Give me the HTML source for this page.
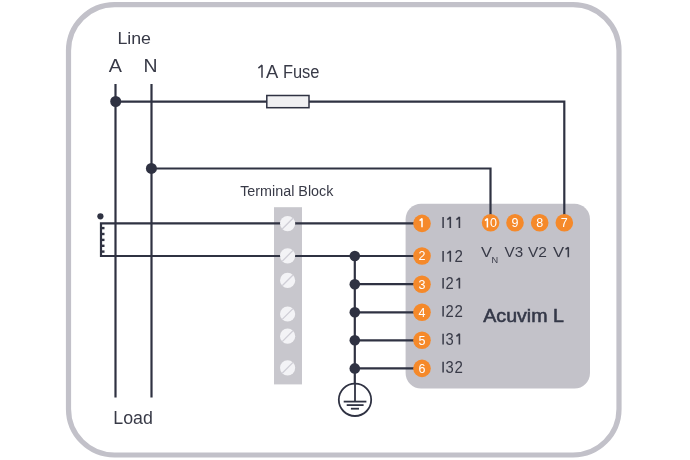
<!DOCTYPE html>
<html><head><meta charset="utf-8"><style>
html,body{margin:0;padding:0;background:#fff;width:690px;height:460px;overflow:hidden}
svg{display:block;will-change:transform}
text{font-family:"Liberation Sans",sans-serif}
</style></head><body>
<svg width="690" height="460" viewBox="0 0 690 460">
<rect x="0" y="0" width="690" height="460" fill="#fff"/>
<rect x="68.5" y="4.7" width="550.5" height="450.3" rx="46" ry="46" fill="none" stroke="#c2c1c9" stroke-width="5.2"/>
<rect x="405.6" y="203.8" width="184.4" height="184.8" rx="15.5" ry="15.5" fill="#c3c2c9"/>
<rect x="274" y="207.2" width="28" height="177.2" fill="#c8c7cd"/>
<g fill="#383a47">
<text x="117.4" y="43.8" font-size="17.4" textLength="33.6" lengthAdjust="spacingAndGlyphs">Line</text>
<text x="108.8" y="72" font-size="17.5" textLength="13.2" lengthAdjust="spacingAndGlyphs">A</text>
<text x="143.5" y="72" font-size="17.5" textLength="14" lengthAdjust="spacingAndGlyphs">N</text>
<text x="265.9" y="77.6" font-size="17.5" textLength="12.3" lengthAdjust="spacingAndGlyphs">A</text>
<text x="282.9" y="77.6" font-size="17.5" textLength="36.6" lengthAdjust="spacingAndGlyphs">Fuse</text>
<text x="240.2" y="195.6" font-size="14" textLength="93.2" lengthAdjust="spacingAndGlyphs">Terminal Block</text>
<text x="113.3" y="423.7" font-size="17.5" textLength="39.6" lengthAdjust="spacingAndGlyphs">Load</text>
</g>
<path d="M258.40,68.10 L262.00,65.20 L262.00,77.70" fill="none" stroke="#383a47" stroke-width="1.5" stroke-linejoin="bevel" stroke-linecap="butt"/>
<g stroke="#2f3242" stroke-width="2.2" fill="none">
<line x1="115.5" y1="84" x2="115.5" y2="397.6"/>
<line x1="151.5" y1="84" x2="151.5" y2="397.6"/>
<polyline points="115.5,101.6 564.3,101.6 564.3,215"/>
<polyline points="151.5,168.5 490.5,168.5 490.5,215"/>
<polyline points="415,223.4 101,223.4 101,256.0 415,256.0"/>
<line x1="354.8" y1="256.0" x2="354.8" y2="383"/>
<line x1="354.8" y1="284.2" x2="415" y2="284.2"/>
<line x1="354.8" y1="312.3" x2="415" y2="312.3"/>
<line x1="354.8" y1="340.3" x2="415" y2="340.3"/>
<line x1="354.8" y1="368.4" x2="415" y2="368.4"/>
</g>
<g stroke="#2f3242" stroke-width="2.4">
<line x1="101" y1="228.1" x2="104.5" y2="228.1"/>
<line x1="101" y1="234.0" x2="104.5" y2="234.0"/>
<line x1="101" y1="239.9" x2="104.5" y2="239.9"/>
<line x1="101" y1="245.8" x2="104.5" y2="245.8"/>
<line x1="101" y1="251.6" x2="104.5" y2="251.6"/>
</g>
<circle cx="100.4" cy="216.3" r="3.1" fill="#2f3242"/>
<rect x="266.8" y="95.5" width="42.2" height="12.2" fill="#f0f0f2" stroke="#2f3242" stroke-width="1.5"/>
<g fill="#2f3242">
<circle cx="115.7" cy="101.5" r="5.5"/>
<circle cx="151.4" cy="168.4" r="5.5"/>
<circle cx="354.8" cy="256.0" r="5.3"/>
<circle cx="354.8" cy="284.2" r="5.3"/>
<circle cx="354.8" cy="312.3" r="5.3"/>
<circle cx="354.8" cy="340.3" r="5.3"/>
<circle cx="354.8" cy="368.4" r="5.3"/>
</g>
<g stroke="#2f3242" stroke-width="1.8" fill="none">
<circle cx="355" cy="399.8" r="16.2"/>
<line x1="355" y1="383.6" x2="355" y2="401.6"/>
<line x1="343.7" y1="401.6" x2="366.4" y2="401.6"/>
<line x1="346.7" y1="405.1" x2="363.6" y2="405.1"/>
<line x1="350.9" y1="408.7" x2="359" y2="408.7"/>
</g>
<g fill="#f3f3f6">
<circle cx="287.6" cy="223.6" r="7.6"/>
<circle cx="287.6" cy="255.8" r="7.6"/>
<circle cx="287.6" cy="280.4" r="7.6"/>
<circle cx="287.6" cy="314" r="7.6"/>
<circle cx="287.6" cy="336.2" r="7.6"/>
<circle cx="287.6" cy="367.8" r="7.6"/>
</g>
<g stroke="#cfced6" stroke-width="1.3">
<line x1="282.2" y1="229.0" x2="293.0" y2="218.2"/>
<line x1="282.2" y1="261.2" x2="293.0" y2="250.4"/>
<line x1="282.2" y1="285.8" x2="293.0" y2="275.0"/>
<line x1="282.2" y1="319.4" x2="293.0" y2="308.6"/>
<line x1="282.2" y1="341.6" x2="293.0" y2="330.8"/>
<line x1="282.2" y1="373.2" x2="293.0" y2="362.4"/>
</g>
<g fill="#f5892a">
<circle cx="422" cy="223.4" r="8.8"/>
<circle cx="422" cy="256.0" r="8.8"/>
<circle cx="422" cy="284.2" r="8.8"/>
<circle cx="422" cy="312.3" r="8.8"/>
<circle cx="422" cy="340.3" r="8.8"/>
<circle cx="422" cy="368.4" r="8.8"/>
<circle cx="490.6" cy="222.8" r="8.8"/>
<circle cx="515" cy="222.8" r="8.8"/>
<circle cx="539.7" cy="222.8" r="8.8"/>
<circle cx="564.3" cy="222.8" r="8.8"/>
</g>
<g fill="#fff" font-size="12.5" text-anchor="middle">
<text x="422" y="260.3">2</text>
<text x="422" y="288.5">3</text>
<text x="422" y="316.6">4</text>
<text x="422" y="344.6">5</text>
<text x="422" y="372.7">6</text>
<text x="493.6" y="227.1">0</text>
<text x="515" y="227.1">9</text>
<text x="539.7" y="227.1">8</text>
<text x="564.3" y="227.1">7</text>
</g>
<path d="M419.60,220.60 L422.00,218.60 L422.00,227.30" fill="none" stroke="#fff" stroke-width="1.5" stroke-linejoin="bevel" stroke-linecap="butt"/>
<path d="M485.00,220.60 L487.40,218.60 L487.40,227.60" fill="none" stroke="#fff" stroke-width="1.5" stroke-linejoin="bevel" stroke-linecap="butt"/>
<g fill="#383a47" font-size="16">
<line x1="443.1" y1="217.1" x2="443.1" y2="227.9" stroke="#383a47" stroke-width="1.5"/>
<path d="M447.30,219.60 L450.30,217.10 L450.30,227.90" fill="none" stroke="#383a47" stroke-width="1.6" stroke-linejoin="bevel" stroke-linecap="butt"/>
<path d="M456.40,219.60 L459.40,217.10 L459.40,227.90" fill="none" stroke="#383a47" stroke-width="1.6" stroke-linejoin="bevel" stroke-linecap="butt"/>
<line x1="443.1" y1="251.0" x2="443.1" y2="261.8" stroke="#383a47" stroke-width="1.5"/>
<path d="M447.30,253.50 L450.30,251.00 L450.30,261.80" fill="none" stroke="#383a47" stroke-width="1.6" stroke-linejoin="bevel" stroke-linecap="butt"/>
<text x="454.6" y="261.8" textLength="8.4" lengthAdjust="spacingAndGlyphs">2</text>
<line x1="443.1" y1="278.0" x2="443.1" y2="288.6" stroke="#383a47" stroke-width="1.5"/>
<text x="445.6" y="288.6" textLength="8.2" lengthAdjust="spacingAndGlyphs">2</text>
<path d="M456.40,280.50 L459.40,278.00 L459.40,288.60" fill="none" stroke="#383a47" stroke-width="1.6" stroke-linejoin="bevel" stroke-linecap="butt"/>
<line x1="443.1" y1="306.0" x2="443.1" y2="316.6" stroke="#383a47" stroke-width="1.5"/>
<text x="445.6" y="316.6" textLength="8.2" lengthAdjust="spacingAndGlyphs">2</text>
<text x="454.6" y="316.6" textLength="8.4" lengthAdjust="spacingAndGlyphs">2</text>
<line x1="443.1" y1="333.8" x2="443.1" y2="344.6" stroke="#383a47" stroke-width="1.5"/>
<text x="445.6" y="344.6" textLength="8.2" lengthAdjust="spacingAndGlyphs">3</text>
<path d="M456.40,336.30 L459.40,333.80 L459.40,344.60" fill="none" stroke="#383a47" stroke-width="1.6" stroke-linejoin="bevel" stroke-linecap="butt"/>
<line x1="443.1" y1="361.8" x2="443.1" y2="372.6" stroke="#383a47" stroke-width="1.5"/>
<text x="445.6" y="372.6" textLength="8.2" lengthAdjust="spacingAndGlyphs">3</text>
<text x="454.6" y="372.6" textLength="8.4" lengthAdjust="spacingAndGlyphs">2</text>
</g>
<g fill="#383a47" font-size="15">
<text x="481" y="257.3" textLength="11" lengthAdjust="spacingAndGlyphs">V</text>
<text x="491.5" y="263.1" font-size="9.2">N</text>
<text x="504.6" y="257.2" textLength="18.6" lengthAdjust="spacingAndGlyphs">V3</text>
<text x="527.9" y="257.2" textLength="19" lengthAdjust="spacingAndGlyphs">V2</text>
<text x="552.9" y="257.2" textLength="11.1" lengthAdjust="spacingAndGlyphs">V</text>
</g>
<path d="M565.50,249.40 L568.30,247.40 L568.30,257.20" fill="none" stroke="#383a47" stroke-width="1.6" stroke-linejoin="bevel" stroke-linecap="butt"/>
<text x="483.3" y="321.6" font-size="18.2" fill="#343848" stroke="#343848" stroke-width="0.55" textLength="80.6" lengthAdjust="spacingAndGlyphs">Acuvim L</text>
</svg>
</body></html>
